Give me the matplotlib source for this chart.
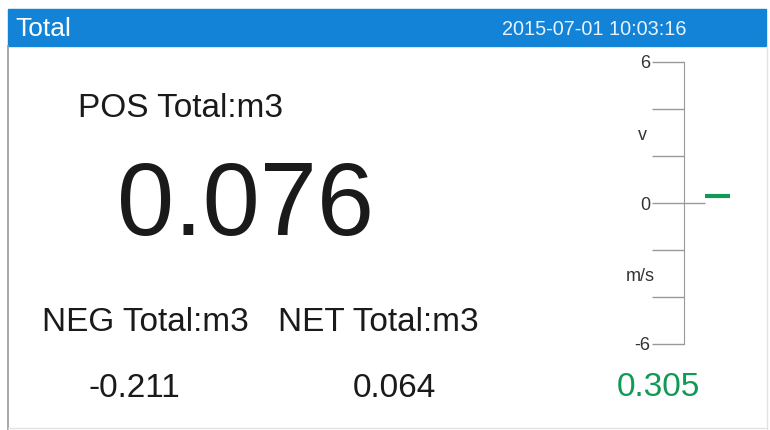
import matplotlib.pyplot as plt
from matplotlib.patches import Rectangle

plt.rcParams['font.family'] = ['Liberation Sans', 'DejaVu Sans']

title = "Total"
timestamp = "2015-07-01 10:03:16"
pos_label = "POS Total:m3"
neg_label = "NEG Total:m3"
net_label = "NET Total:m3"
pos_total = 0.076
neg_total = -0.211
net_total = 0.064
velocity = 0.305
scale_ticks = [-6, -4, -2, 0, 2, 4, 6]
scale_labels = ['-6', '', '', '0', '', '', '6']

fig = plt.figure(figsize=(7.7, 4.3), dpi=100)

# screen layer in pixel coordinates
ax = fig.add_axes([0, 0, 1, 1])
ax.set_xlim(0, 770)
ax.set_ylim(430, 0)
ax.axis('off')

ax.add_patch(Rectangle((8, 9), 758, 37, color='#1283d6'))
ax.plot([8, 8], [46, 430], color='#999999', lw=1.2)
ax.plot([767, 767], [46, 430], color='#e2e2e2', lw=1)
ax.plot([8, 767], [428, 428], color='#e2e2e2', lw=1)

ax.text(15, 36, title, color='white', fontsize=19, va='baseline')
ax.text(502, 35, timestamp, color='#eaf3fb', fontsize=14.3, va='baseline')

ax.text(78, 117, pos_label, fontsize=24, color='#1a1a1a', va='baseline')
ax.text(117, 235, f"{pos_total:.3f}", fontsize=74, color='#1a1a1a', va='baseline')
ax.text(42, 331, neg_label, fontsize=24, color='#1a1a1a', va='baseline')
ax.text(278, 331, net_label, fontsize=24, color='#1a1a1a', va='baseline')
ax.text(88, 397, f"{neg_total:.3f}", fontsize=24, color='#1a1a1a', va='baseline')
ax.text(353, 397, f"{net_total:.3f}", fontsize=24, color='#1a1a1a', va='baseline')
ax.text(617, 396, f"{velocity:.3f}", fontsize=24, color='#109a55', va='baseline')

ax.text(642, 140, "v", fontsize=13, color='#333333', ha='center', va='baseline')
ax.text(640, 281, "m/s", fontsize=13, color='#333333', ha='center', va='baseline')

# velocity scale
sc = fig.add_axes([684 / 770, 1 - 344 / 430, 56 / 770, (344 - 62) / 430])
sc.patch.set_alpha(0)
sc.set_xlim(684, 740)
sc.set_ylim(-6, 6)
for s in ['top', 'right', 'bottom']:
    sc.spines[s].set_visible(False)
sc.spines['left'].set_color('#999999')
sc.set_xticks([])
sc.set_yticks(scale_ticks)
sc.set_yticklabels(scale_labels)
sc.tick_params(axis='y', length=23, width=1, color='#999999', pad=1,
               labelsize=13, labelcolor='#333333')
sc.hlines(0, 684, 705, color='#999999', lw=1)
sc.hlines(velocity, 705, 730, color='#109a55', lw=3)

plt.savefig("out.png", dpi=100)
